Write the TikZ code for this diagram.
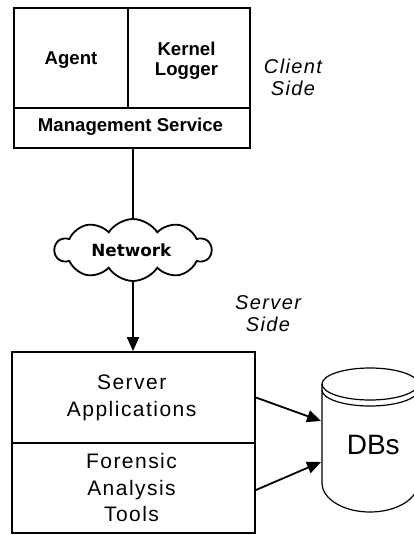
\documentclass[tikz,border=0pt]{standalone}
\usepackage{fontspec}
\setmainfont{Liberation Sans}
\newfontfamily\vfont{DejaVu Sans}
\usetikzlibrary{shapes.symbols,arrows.meta}
\begin{document}
\begin{tikzpicture}[x=1pt,y=-1pt,
  every node/.style={inner sep=0pt, align=center},
  comp/.style={draw, line width=1.8pt},
  boldlbl/.style={font=\bfseries\fontsize{18.6}{20}\selectfont},
  srvlbl/.style={font=\fontsize{21}{26.7}\selectfont\addfontfeatures{LetterSpace=7}},
  sidelbl/.style={font=\itshape\fontsize{20}{22}\selectfont\addfontfeatures{LetterSpace=7}},
  conn/.style={line width=1.8pt},
  arr/.style={line width=1.8pt, -{Triangle[length=14pt,width=12pt]}},
  dbline/.style={line width=1.2pt}]
\useasboundingbox (0,0) rectangle (414,535);
% client side box
\node[comp, minimum width=114pt, minimum height=100pt] (agentbox) at (71,58) {};
\node[comp, minimum width=122pt, minimum height=100pt] (kernelbox) at (189,58) {};
\node[comp, minimum width=236pt, minimum height=40pt] (mgmtbox) at (132,128) {};
\node[boldlbl] (agent) at (71,60.3) {Agent};
\node[boldlbl] (kernel) at (186.5,60.3) {Kernel\\Logger};
\node[boldlbl] (mgmt) at (130.5,126.9) {Management Service};
\node[sidelbl] (client) at (293,77) {Client\\Side};
% network
\node[cloud, draw, line width=1.8pt, cloud puffs=10, cloud puff arc=115, aspect=2.5,
      minimum width=156pt, minimum height=62pt] (net) at (133,250) {};
\node[font=\vfont\bfseries\fontsize{16.8}{20}\selectfont] (netlbl) at (131.3,249.8) {Network};
\node[sidelbl] (server) at (268,314) {Server\\Side};
% server box
\node[comp, minimum width=243pt, minimum height=91pt] (servapp) at (133.5,397.5) {};
\node[comp, minimum width=243pt, minimum height=90pt] (forensic) at (133.5,488) {};
\node[srvlbl] (servlbl) at (131.7,398) {Server\\Applications};
\node[srvlbl] (forlbl) at (131.5,487.6) {Forensic\\Analysis\\Tools};
% database cylinder
\draw[dbline] (322,384) -- (322,483)
  arc[start angle=180, end angle=360, x radius=48pt, y radius=29pt];
\draw[dbline] (370,384) ellipse [x radius=48pt, y radius=16pt];
\draw[dbline] (322,390) arc[start angle=180, end angle=360, x radius=48pt, y radius=16pt];
\node[font=\fontsize{28}{30}\selectfont] (db) at (373.3,445) {DBs};
\coordinate (dbin1) at (321,421);
\coordinate (dbin2) at (321,462);
% connectors
\draw[conn] (net.north |- mgmtbox.south) -- (net.north);
\draw[arr] (net.south) -- (net.south |- servapp.north);
\draw[arr] (servapp.east) -- (dbin1);
\draw[arr] ([yshift=-2pt]forensic.east) -- (dbin2);
\end{tikzpicture}
\end{document}
